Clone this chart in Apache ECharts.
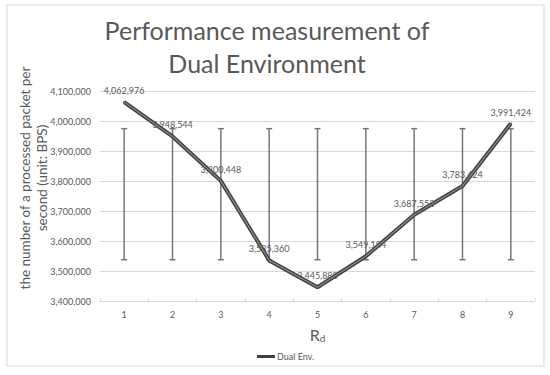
<!DOCTYPE html>
<html>
<head>
<meta charset="utf-8">
<script src="https://cdn.jsdelivr.net/npm/echarts@6/dist/echarts.min.js"></script>
<style>html,body{margin:0;padding:0;background:#fff}#c{width:550px;height:375px}</style>
</head>
<body>
<div id="c"></div>
<script>
var categories = ['1','2','3','4','5','6','7','8','9'];
var dualEnv = [4062976, 3948544, 3800448, 3535360, 3445888, 3549184, 3687552, 3783424, 3991424];
var errLow = [3537600, 3537600, 3537600, 3537600, 3537600, 3537600, 3537600, 3537600, 3537600];
var errHigh = [3974500, 3974500, 3974500, 3974500, 3974500, 3974500, 3974500, 3974500, 3974500];
var yTicks = { min: 3400000, max: 4100000, interval: 100000 };
var titleLines = ['Performance measurement of', 'Dual Environment'];
var yName = 'the number of a processed packet per\nsecond (unit: BPS)';
var seriesName = 'Dual Env.';

var FONT = 'Lato, "Open Sans", "Noto Sans", sans-serif';
function fmt(v){ return Number(v).toLocaleString('en-US'); }

var chart = echarts.init(document.getElementById('c'), null, {renderer:'svg'});
var errData = categories.map(function(c,i){ return [i, errLow[i], errHigh[i]]; });

chart.setOption({
  animation: false,
  backgroundColor: '#fff',
  textStyle: { fontFamily: FONT },
  title: {
    text: titleLines.join('\n'),
    left: 262, top: 8, textAlign: 'center',
    textStyle: { fontFamily: FONT, fontSize: 25, fontWeight: 'normal', color: '#595959', lineHeight: 33 }
  },
  graphic: [{
    type: 'rect', shape: { x: 7, y: 5, width: 537, height: 361 }, silent: true, z: -10,
    style: { fill: 'none', stroke: '#e3e3e3', lineWidth: 1.5 }
  }],
  legend: {
    data: [{ name: seriesName, icon: 'rect' }],
    left: 252, top: 347,
    itemWidth: 18, itemHeight: 3, itemGap: 2,
    textStyle: { fontFamily: FONT, fontSize: 9, color: '#595959', padding: [0,0,0,-3] }
  },
  grid: { left: 100, right: 15, top: 91, bottom: 74, containLabel: false },
  xAxis: {
    type: 'category', data: categories, boundaryGap: true,
    name: 'R{sub|d}', nameLocation: 'middle', nameGap: 24,
    nameTextStyle: { fontFamily: FONT, fontSize: 16, color: '#595959',
      rich: { sub: { fontSize: 10, verticalAlign: 'bottom', padding: [8,0,0,0], color: '#595959' } } },
    axisLine: { lineStyle: { color: '#d9d9d9', width: 1 } },
    axisTick: { show: true, inside: true, length: 3, lineStyle: { color: '#d9d9d9' } },
    axisLabel: { fontFamily: FONT, fontSize: 9, color: '#595959', margin: 9 }
  },
  yAxis: {
    type: 'value', min: yTicks.min, max: yTicks.max, interval: yTicks.interval,
    name: yName, nameLocation: 'middle', nameGap: 50, nameRotate: 90, nameMoveOverlap: false,
    nameTextStyle: { fontFamily: FONT, fontSize: 13.5, color: '#595959', lineHeight: 17, align: 'center', padding: [0, 0, 0, 36] },
    axisLine: { show: false }, axisTick: { show: false },
    splitLine: { lineStyle: { color: '#d9d9d9', width: 1 } },
    axisLabel: { fontFamily: FONT, fontSize: 9, color: '#595959', margin: 9, formatter: fmt }
  },
  series: [
    {
      type: 'custom', name: 'err', silent: true, z: 1,
      data: errData,
      renderItem: function(params, api){
        var x = api.value(0);
        var p1 = api.coord([x, api.value(1)]);
        var p2 = api.coord([x, api.value(2)]);
        var st = { stroke: '#767676', lineWidth: 1.5 };
        return { type: 'group', children: [
          { type: 'line', shape: { x1: p1[0], y1: p1[1], x2: p2[0], y2: p2[1] }, style: st },
          { type: 'line', shape: { x1: p1[0]-3, y1: p1[1], x2: p1[0]+3, y2: p1[1] }, style: st },
          { type: 'line', shape: { x1: p2[0]-3, y1: p2[1], x2: p2[0]+3, y2: p2[1] }, style: st }
        ]};
      }
    },
    {
      type: 'line', name: 'inner', data: dualEnv, z: 4, silent: true,
      symbol: 'none', lineStyle: { color: '#8a8a8a', width: 1.2 }
    },
    {
      type: 'line', name: seriesName, data: dualEnv, z: 3,
      symbol: 'circle', symbolSize: 2, showSymbol: true, color: '#404040',
      itemStyle: { color: '#404040' },
      lineStyle: { color: '#3f3f3f', width: 4 },
      label: { show: true, position: 'top', distance: 6, fontFamily: FONT, fontSize: 9, color: '#595959',
        formatter: function(p){ return fmt(p.value); } },
      labelLayout: { hideOverlap: false }
    }
  ]
});
</script>
</body>
</html>
